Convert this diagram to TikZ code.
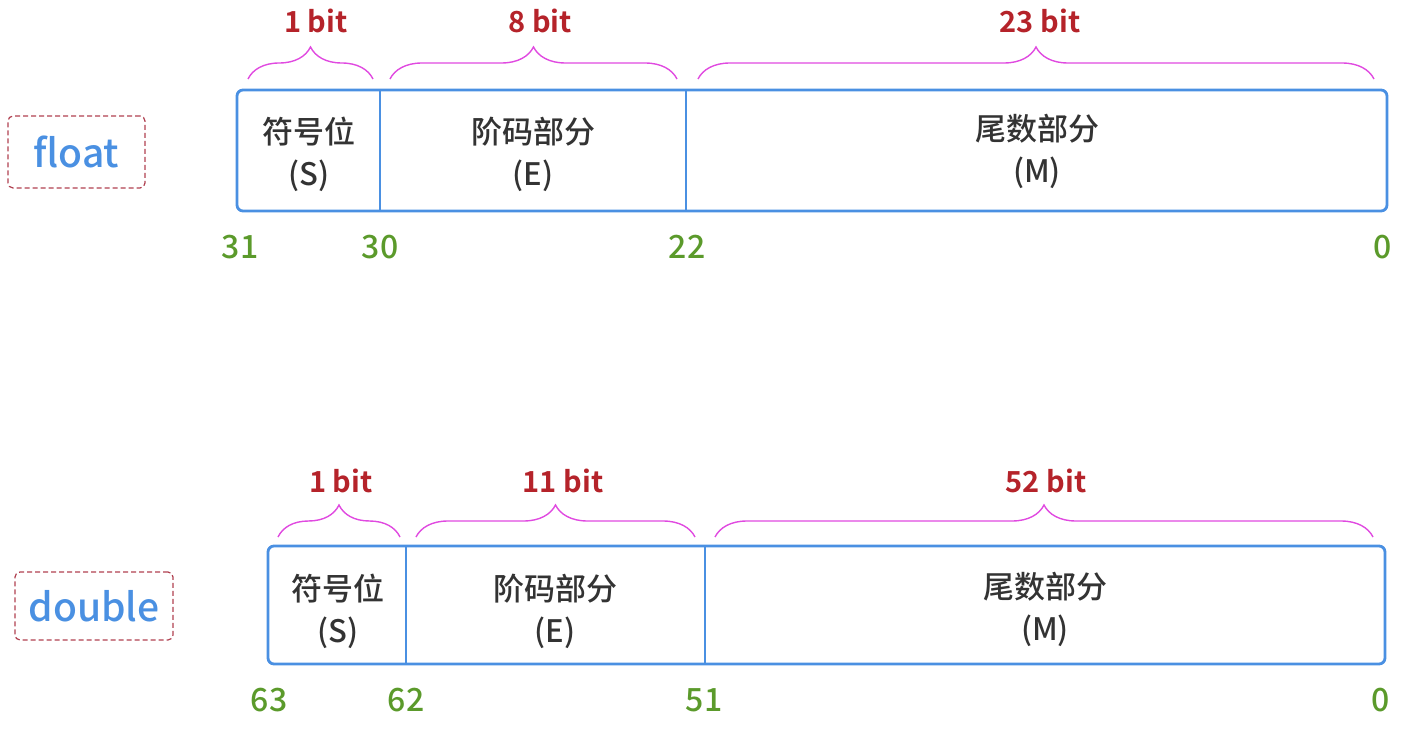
\documentclass[tikz,border=0pt]{standalone}
\usepackage{fontspec}
\setmainfont{Noto Sans CJK SC}[BoldFont={Noto Sans CJK SC Medium}]
\newfontfamily\heavyfont{Noto Sans CJK SC Bold}
\usetikzlibrary{decorations.pathreplacing}
\definecolor{frameblue}{HTML}{4A90E2}
\definecolor{typeblue}{HTML}{4A90E2}
\definecolor{bitred}{HTML}{B5232A}
\definecolor{numgreen}{HTML}{5B9A2B}
\definecolor{bracepink}{HTML}{E04AE0}
\definecolor{dashred}{HTML}{B04050}
\definecolor{textgray}{HTML}{333333}
\tikzset{
  frame/.style={draw=frameblue, line width=2.8pt, rounded corners=6pt},
  divider/.style={draw=frameblue, line width=2pt},
  field/.style={align=center, text=textgray, font=\bfseries\fontsize{31}{42}\selectfont, inner sep=0pt},
  typebox/.style={draw=dashred, dashed, dash pattern=on 5pt off 3pt, line width=1.2pt, rounded corners=5pt, text=typeblue, font=\bfseries\fontsize{39}{40}\selectfont, inner sep=0pt},
  bitnum/.style={text=numgreen, font=\bfseries\fontsize{32}{36}\selectfont, inner sep=0pt},
  bitlabel/.style={text=bitred, font=\heavyfont\fontsize{29}{32}\selectfont, inner sep=0pt},
  bracestyle/.style={draw=bracepink, line width=1.4pt, decorate, decoration={brace, amplitude=32pt}},
}
\begin{document}
\begin{tikzpicture}[x=1pt,y=-1pt]
\useasboundingbox (0,0) rectangle (1406,730);
% ---------------- float ----------------
\node[typebox, minimum width=137pt, minimum height=72pt] (tf) at (76.5,152) {float};
\draw[frame] (237,90) rectangle (1387,211);
\coordinate (fd1t) at (380,90); \coordinate (fd1b) at (380,211);
\coordinate (fd2t) at (686,90); \coordinate (fd2b) at (686,211);
\draw[divider] (fd1t) -- (fd1b);
\draw[divider] (fd2t) -- (fd2b);
\node[field] (fS) at (309,154) {符号位\\(S)};
\node[field] (fE) at (533,154) {阶码部分\\(E)};
\node[field] (fM) at (1037,151) {尾数部分\\(M)};
\node[bitnum] (f31) at (240,247) {31};
\node[bitnum] (f30) at (380,247) {30};
\node[bitnum] (f22) at (687,247) {22};
\node[bitnum] (f0) at (1383,247) {0};
\coordinate (fb1a) at (248,79); \coordinate (fb1b) at (373,79);
\coordinate (fb2a) at (390,79); \coordinate (fb2b) at (677,79);
\coordinate (fb3a) at (698,79); \coordinate (fb3b) at (1374,79);
\draw[bracestyle] (fb1a) -- (fb1b);
\draw[bracestyle] (fb2a) -- (fb2b);
\draw[bracestyle] (fb3a) -- (fb3b);
\node[bitlabel] (fl1) at (316,21) {1 bit};
\node[bitlabel] (fl2) at (540,21) {8 bit};
\node[bitlabel] (fl3) at (1040,21) {23 bit};
% ---------------- double ----------------
\node[typebox, minimum width=158pt, minimum height=68pt] (td) at (94,606) {double};
\draw[frame] (268,546) rectangle (1385,664);
\coordinate (dd1t) at (406,546); \coordinate (dd1b) at (406,664);
\coordinate (dd2t) at (705,546); \coordinate (dd2b) at (705,664);
\draw[divider] (dd1t) -- (dd1b);
\draw[divider] (dd2t) -- (dd2b);
\node[field] (dS) at (338,611) {符号位\\(S)};
\node[field] (dE) at (555,611) {阶码部分\\(E)};
\node[field] (dM) at (1045,609) {尾数部分\\(M)};
\node[bitnum] (d63) at (269,700) {63};
\node[bitnum] (d62) at (406,700) {62};
\node[bitnum] (d51) at (704,700) {51};
\node[bitnum] (d0) at (1381,700) {0};
\coordinate (db1a) at (278,537); \coordinate (db1b) at (400,537);
\coordinate (db2a) at (416,537); \coordinate (db2b) at (695,537);
\coordinate (db3a) at (715,537); \coordinate (db3b) at (1373,537);
\draw[bracestyle] (db1a) -- (db1b);
\draw[bracestyle] (db2a) -- (db2b);
\draw[bracestyle] (db3a) -- (db3b);
\node[bitlabel] (dl1) at (341,481) {1 bit};
\node[bitlabel] (dl2) at (563,481) {11 bit};
\node[bitlabel] (dl3) at (1046,481) {52 bit};
\end{tikzpicture}
\end{document}
